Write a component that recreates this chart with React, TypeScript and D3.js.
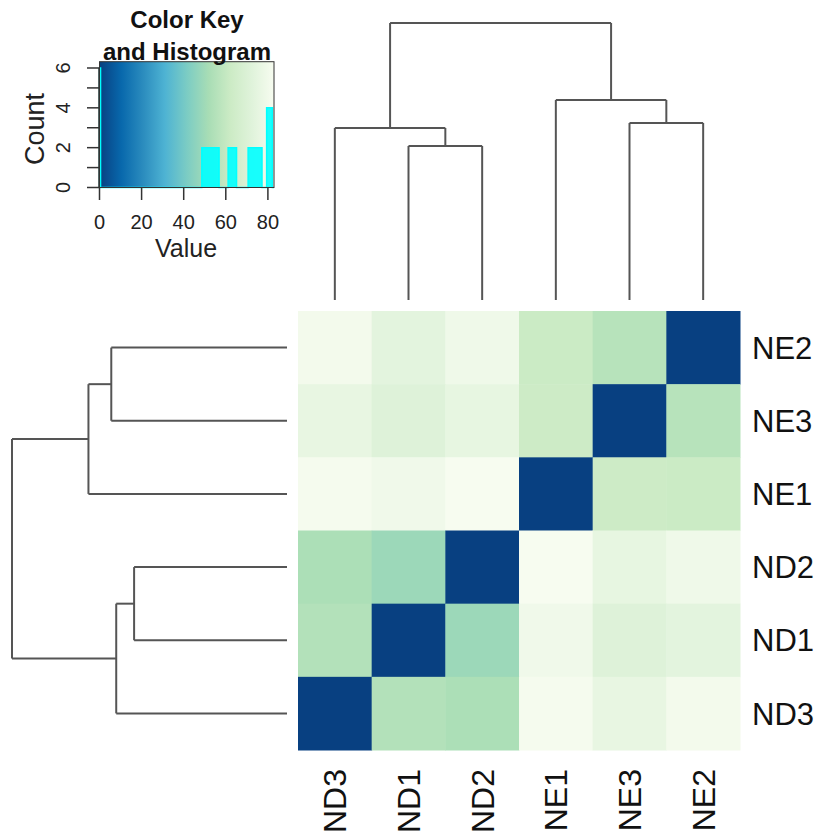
import React from 'react';
import * as d3 from 'd3';

interface TreeNode {
  name?: string;
  height?: number;
  children?: TreeNode[];
}

// sample names and their pairwise values (symmetric)
const samples = ['ND1', 'ND2', 'ND3', 'NE1', 'NE2', 'NE3'];
const values = [
  [0, 49, 55, 79.7, 74, 71.5],
  [49, 0, 53, 82.9, 79.5, 75.5],
  [55, 53, 0, 82, 81, 76],
  [79.7, 82.9, 82, 0, 62, 62.5],
  [74, 79.5, 81, 62, 0, 56],
  [71.5, 75.5, 76, 62.5, 56, 0],
];

// leaf order of the clustering (left to right, bottom to top)
const leafOrder = ['ND3', 'ND1', 'ND2', 'NE1', 'NE3', 'NE2'];

// clustering tree with merge heights
const clusterTree: TreeNode = {
  height: 100,
  children: [
    { height: 62.1, children: [{ name: 'ND3' }, { height: 55.6, children: [{ name: 'ND1' }, { name: 'ND2' }] }] },
    { height: 72.2, children: [{ name: 'NE1' }, { height: 63.9, children: [{ name: 'NE3' }, { name: 'NE2' }] }] },
  ],
};

// histogram in the color key
const histStart = [0, 48.6, 61.1, 70.6, 79.4];
const histEnd = [0.5, 56.8, 65.1, 77.2, 82.1];
const histCount = [6, 2, 2, 2, 4];

const keyTicks = [0, 20, 40, 60, 80];
const countTicks = [0, 1, 2, 3, 4, 5, 6];
const countLabels = [0, 2, 4, 6];

const font = '"Liberation Sans", Arial, Helvetica, sans-serif';
const lineColor = '#555';

type Seg = [number, number, number, number]; // pos1, h1, pos2, h2

function dendroSegments(tree: TreeNode, pos: (name: string) => number): Seg[] {
  const root = d3.hierarchy(tree);
  const segs: Seg[] = [];
  const place = (n: d3.HierarchyNode<TreeNode>): number => {
    if (!n.children) return pos(n.data.name as string);
    const ps = n.children.map(place);
    const p = (ps[0] + ps[ps.length - 1]) / 2;
    const h = n.data.height ?? 0;
    segs.push([ps[0], h, ps[ps.length - 1], h]);
    n.children.forEach((c, i) => {
      segs.push([ps[i], h, ps[i], c.data.height ?? 0]);
    });
    return p;
  };
  place(root);
  return segs;
}

const App: React.FC = () => {
  const width = 824;
  const height = 837;

  const maxVal = d3.max(values.flat()) as number;
  const gnbu = [...d3.schemeGnBu[9]].reverse();
  const color = d3.scaleLinear<string>()
    .domain(gnbu.map((_, i) => (i * maxVal) / (gnbu.length - 1)))
    .range(gnbu)
    .interpolate(d3.interpolateRgb);

  // heatmap
  const x = d3.scaleBand<string>().domain(leafOrder).range([298, 740]);
  const rowOrder = [...leafOrder].reverse();
  const y = d3.scaleBand<string>().domain(rowOrder).range([311, 750]);
  const idx = (s: string) => samples.indexOf(s);

  // dendrograms
  const topH = d3.scaleLinear().domain([0, 100]).range([300, 23]);
  const leftH = d3.scaleLinear().domain([0, 100]).range([287, 12]);
  const topSegs = dendroSegments(clusterTree, (n) => (x(n) as number) + x.bandwidth() / 2);
  const leftSegs = dendroSegments(clusterTree, (n) => (y(n) as number) + y.bandwidth() / 2);

  // color key
  const kx = d3.scaleLinear().domain([0, maxVal]).range([99.5, 274]);
  const ky = d3.scaleLinear().domain([0, 6 / 0.95]).range([187.5, 61.7]);

  const stepPts: [number, number][] = [[0, 0]];
  histStart.forEach((s, i) => {
    stepPts.push([s, histCount[i]]);
    stepPts.push([histEnd[i], 0]);
  });
  stepPts.push([maxVal, 0]);
  const stepLine = d3.line<[number, number]>()
    .x((d) => kx(d[0]))
    .y((d) => ky(d[1]))
    .curve(d3.curveStepAfter);

  const gradStops = color.domain().map((v) => ({ offset: v / maxVal, c: color(v) }));

  return (
    <svg width={width} height={height} style={{ position: 'absolute', left: 0, top: 0, background: '#fff' }}
      fontFamily={font}>
      <defs>
        <linearGradient id="keyGrad" x1="0" x2="1" y1="0" y2="0">
          {gradStops.map((s, i) => (
            <stop key={i} offset={s.offset} stopColor={s.c} />
          ))}
        </linearGradient>
      </defs>

      {/* heatmap cells */}
      <g>
        {rowOrder.map((r) => leafOrder.map((c) => (
          <rect key={r + c} x={x(c)} y={y(r)} width={x.bandwidth() + 0.5} height={y.bandwidth() + 0.5}
            fill={color(values[idx(r)][idx(c)])} />
        )))}
      </g>

      {/* row labels */}
      {rowOrder.map((r) => (
        <text key={r} x={752} y={(y(r) as number) + y.bandwidth() / 2} dy="0.36em" fontSize={31} fill="#111">{r}</text>
      ))}

      {/* column labels */}
      {leafOrder.map((c) => (
        <text key={c} transform={`translate(${(x(c) as number) + x.bandwidth() / 2},769) rotate(-90)`}
          textAnchor="end" dy="0.36em" fontSize={32} fill="#111">{c}</text>
      ))}

      {/* column dendrogram */}
      <g stroke={lineColor} strokeWidth={2} fill="none">
        {topSegs.map((s, i) => (
          <line key={i} x1={s[0]} y1={topH(s[1])} x2={s[2]} y2={topH(s[3])} />
        ))}
      </g>

      {/* row dendrogram */}
      <g stroke={lineColor} strokeWidth={2} fill="none">
        {leftSegs.map((s, i) => (
          <line key={i} x1={leftH(s[1])} y1={s[0]} x2={leftH(s[3])} y2={s[2]} />
        ))}
      </g>

      {/* color key */}
      <g>
        <rect x={kx(0)} y={ky.range()[1]} width={kx(maxVal) - kx(0)} height={ky.range()[0] - ky.range()[1]}
          fill="url(#keyGrad)" />
        {histStart.map((s, i) => (
          <rect key={i} x={kx(s)} y={ky(histCount[i])} width={kx(histEnd[i]) - kx(s)}
            height={ky(0) - ky(histCount[i])} fill="#00ffff" opacity={0.9} />
        ))}
        <path d={stepLine(stepPts) as string} fill="none" stroke="#00ffff" strokeWidth={1.5} />
        <rect x={kx(0)} y={ky.range()[1]} width={kx(maxVal) - kx(0)} height={ky.range()[0] - ky.range()[1]}
          fill="none" stroke="#333" strokeWidth={1} />

        {/* x axis */}
        <g stroke="#333" strokeWidth={1.5}>
          {keyTicks.map((t) => (
            <line key={t} x1={kx(t)} x2={kx(t)} y1={188} y2={200} />
          ))}
        </g>
        {keyTicks.map((t) => (
          <text key={t} x={kx(t)} y={229} textAnchor="middle" fontSize={20} fill="#222">{t}</text>
        ))}
        <text x={186} y={257} textAnchor="middle" fontSize={25} fill="#222">Value</text>

        {/* y axis */}
        <g stroke="#333" strokeWidth={1.5}>
          <line x1={99} x2={99} y1={ky(0)} y2={ky(6)} />
          {countTicks.map((t) => (
            <line key={t} x1={87} x2={99} y1={ky(t)} y2={ky(t)} />
          ))}
        </g>
        {countLabels.map((t) => (
          <text key={t} transform={`translate(70,${ky(t)}) rotate(-90)`} textAnchor="middle" fontSize={20} fill="#222">{t}</text>
        ))}
        <text transform="translate(44,129) rotate(-90)" textAnchor="middle" fontSize={27} fill="#222">Count</text>

        {/* title */}
        <text x={187} y={28} textAnchor="middle" fontSize={24} fontWeight="bold" fill="#111">Color Key</text>
        <text x={187} y={60} textAnchor="middle" fontSize={24} fontWeight="bold" fill="#111">and Histogram</text>
      </g>
    </svg>
  );
};

export default App;
